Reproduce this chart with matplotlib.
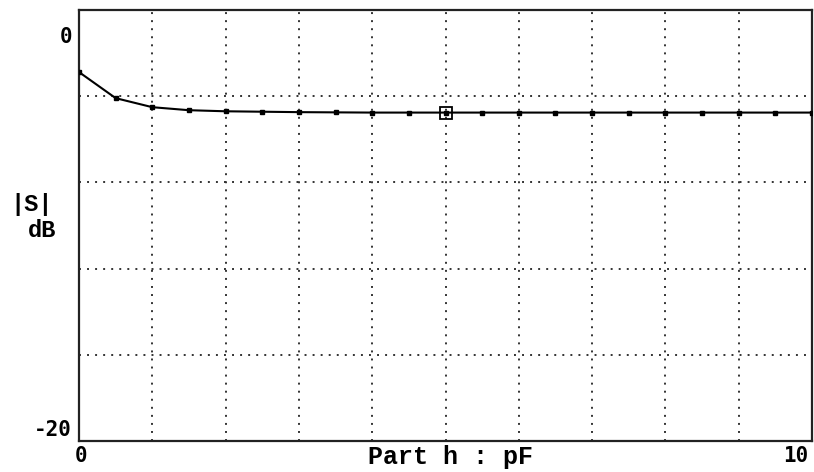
import numpy as np
import matplotlib
matplotlib.use("Agg")
import matplotlib.pyplot as plt

# sweep of part h (pF) against |S| in dB
part_h = [0.0, 0.5, 1.0, 1.5, 2.0, 2.5, 3.0, 3.5, 4.0, 4.5, 5.0,
          5.5, 6.0, 6.5, 7.0, 7.5, 8.0, 8.5, 9.0, 9.5, 10.0]
s_db = [-2.88, -4.09, -4.51, -4.65, -4.70, -4.72, -4.74, -4.75, -4.76, -4.76, -4.76,
        -4.76, -4.76, -4.76, -4.76, -4.76, -4.76, -4.76, -4.76, -4.76, -4.76]
cursor_x = 5.0
cursor_y = -4.76

x_range = (0, 10)
y_range = (-20, 0)

W, H = 814, 472
fig = plt.figure(figsize=(W / 100, H / 100), dpi=100)
plt.rcParams['lines.scale_dashes'] = False

def fx(px):
    return px / W

def fy(py):
    return 1 - py / H

ax = fig.add_axes([fx(79), fy(441), fx(812) - fx(79), fy(10) - fy(441)])
ax.set_xlim(*x_range)
ax.set_ylim(*y_range)

# dotted grid, 10 x 5 divisions
for gx in np.linspace(x_range[0], x_range[1], 11)[1:-1]:
    ax.axvline(gx, color='#333333', lw=1.4, dashes=(1.4, 4.4), zorder=1)
for gy in np.linspace(y_range[0], y_range[1], 6)[1:-1]:
    ax.axhline(gy, color='#333333', lw=1.4, dashes=(1.4, 4.4), zorder=1)

ax.plot(part_h, s_db, color='black', lw=1.5, marker='s', ms=2.2, zorder=3)
ax.plot([cursor_x], [cursor_y], marker='s', ms=8.5, mfc='none', mec='black',
        mew=1.3, zorder=4)

ax.set_xticks([])
ax.set_yticks([])
for sp in ax.spines.values():
    sp.set_linewidth(1.6)
    sp.set_color('#222222')

tick_font = dict(family='DejaVu Sans Mono', weight='bold', size=15, color='black')
lab_font = dict(family='Liberation Mono', weight='bold', color='black')

fig.text(fx(72), fy(37), "0", ha='right', va='center', **tick_font)
fig.text(fx(72), fy(430), "-20", ha='right', va='center', **tick_font)
fig.text(fx(81), fy(456), "0", ha='center', va='center', **tick_font)
fig.text(fx(808), fy(456), "10", ha='right', va='center', **tick_font)

fig.text(fx(451), fy(457), "Part h : pF", ha='center', va='center', size=18, **lab_font)
fig.text(fx(32), fy(204), "|S|", ha='center', va='center', size=17, **lab_font)
fig.text(fx(42), fy(231), "dB", ha='center', va='center', size=17, **lab_font)

fig.savefig("out.png", dpi=100, facecolor='white')
